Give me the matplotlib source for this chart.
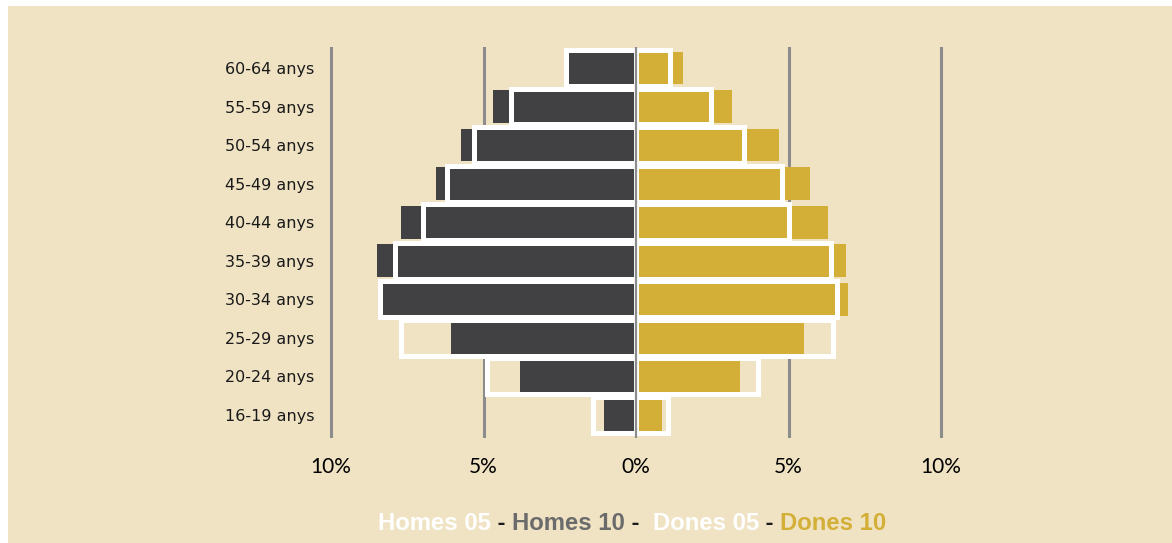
import matplotlib.pyplot as plt
from matplotlib.patches import Rectangle
import numpy as np

# ===== データ =====
age_groups = ['16-19 anys', '20-24 anys', '25-29 anys', '30-34 anys', '35-39 anys',
              '40-44 anys', '45-49 anys', '50-54 anys', '55-59 anys', '60-64 anys']
homes_05 = [1.4, 4.9, 7.7, 8.4, 7.9, 7.0, 6.2, 5.3, 4.1, 2.3]
homes_10 = [1.05, 3.8, 6.05, 8.3, 8.5, 7.7, 6.55, 5.75, 4.7, 2.2]
dones_05 = [1.05, 4.0, 6.45, 6.6, 6.4, 5.0, 4.8, 3.55, 2.45, 1.1]
dones_10 = [0.85, 3.4, 5.5, 6.95, 6.9, 6.3, 5.7, 4.7, 3.15, 1.55]
tick_vals = [-10, -5, 0, 5, 10]
tick_labels = ['10%', '5%', '0%', '5%', '10%']

# ===== スタイル =====
BG = '#F0E3C4'
DARK = '#414143'
GOLD = '#D4AF37'
GRID = '#8C8C8C'
FILL_H = 0.85
OUT_H = 0.93
OUT_LW = 3.6

fig = plt.figure(figsize=(11.72, 5.43), dpi=100, facecolor=BG)
# 左と上の白い余白
fig.patches.append(Rectangle((0, 0), 8 / 1172, 1, transform=fig.transFigure,
                             facecolor='white', edgecolor='none', zorder=0))
fig.patches.append(Rectangle((0, 1 - 6 / 543), 1, 6 / 543, transform=fig.transFigure,
                             facecolor='white', edgecolor='none', zorder=0))

W, H = 1172, 543
PX_PER_PCT = 30.5
ZERO_X = 636
ax_l, ax_r = 326, 946
ax_t, ax_b = 47, 438
ax = fig.add_axes([ax_l / W, 1 - ax_b / H, (ax_r - ax_l) / W, (ax_b - ax_t) / H])
ax.set_facecolor('none')

y = np.arange(len(age_groups))

# グリッド線
for v in [-10, -5, 5, 10]:
    ax.axvline(v, color=GRID, linewidth=2.2, zorder=0)

# 2010 (塗り)
ax.barh(y, [-v for v in homes_10], height=FILL_H, color=DARK, zorder=2)
ax.barh(y, dones_10, height=FILL_H, color=GOLD, zorder=2)

# 2005 (白枠)
ax.barh(y, [-v for v in homes_05], height=OUT_H, facecolor='none',
        edgecolor='white', linewidth=OUT_LW, zorder=3)
ax.barh(y, dones_05, height=OUT_H, facecolor='none',
        edgecolor='white', linewidth=OUT_LW, zorder=3)

# 0 の線
ax.axvline(0, color=GRID, linewidth=1.6, zorder=4)

ax.set_xlim((ax_l - ZERO_X) / PX_PER_PCT, (ax_r - ZERO_X) / PX_PER_PCT)
ax.set_ylim(-0.6, 9.545)

ax.set_yticks(y)
ax.set_yticklabels(age_groups, fontsize=11.5, family='DejaVu Sans', color='#1a1a1a')
ax.set_xticks(tick_vals)
ax.set_xticklabels(tick_labels, fontsize=15, family='Lato', color='black')
ax.tick_params(axis='both', length=0)
ax.tick_params(axis='y', pad=8.5)
ax.tick_params(axis='x', pad=14)
for s in ax.spines.values():
    s.set_visible(False)

# 凡例 (色付きテキスト)
parts = [('Homes 05', 'white'), (' - ', '#1a1a1a'), ('Homes 10', '#6B6B6B'),
         (' -  ', '#1a1a1a'), ('Dones 05', 'white'), (' - ', '#1a1a1a'),
         ('Dones 10', GOLD)]
renderer = fig.canvas.get_renderer()
x_pos = 378
for s, c in parts:
    t = fig.text(x_pos / W, 1 - 523.5 / H, s, color=c, fontsize=17.2,
                 fontweight='bold', family='Liberation Sans', va='center', ha='left')
    x_pos = t.get_window_extent(renderer).x1

fig.savefig('out.png', dpi=100, facecolor=BG)
